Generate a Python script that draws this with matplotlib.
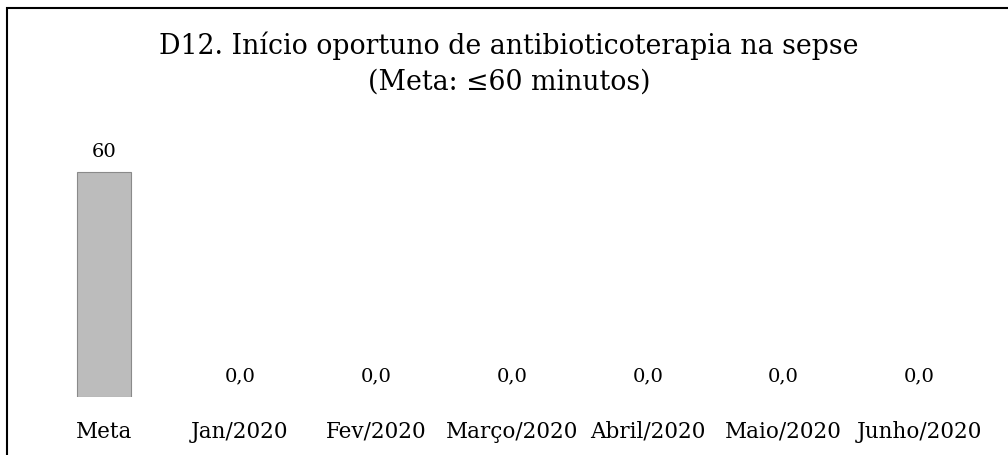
import matplotlib.pyplot as plt
from matplotlib.patches import Rectangle

categories = ["Meta", "Jan/2020", "Fev/2020", "Março/2020", "Abril/2020",
              "Maio/2020", "Junho/2020"]
values = [60, 0.0, 0.0, 0.0, 0.0, 0.0, 0.0]
labels = ["60", "0,0", "0,0", "0,0", "0,0", "0,0", "0,0"]
title = "D12. Início oportuno de antibioticoterapia na sepse\n(Meta: ≤60 minutos)"

plt.rcParams['font.family'] = ['DejaVu Serif']

fig = plt.figure(figsize=(10.08, 4.55), dpi=100)
ax = fig.add_axes([0.0357, 0.1275, 0.944, 0.577])

x = range(len(categories))
bars = ax.bar(x, values, width=0.4, color="#bcbcbc", edgecolor="#8a8a8a", linewidth=0.8)
for b, v in zip(bars, values):
    if v == 0:
        b.set_linewidth(0)
for xi, v, lab in zip(x, values, labels):
    ax.text(xi, v + 3, lab, ha="center", va="bottom", fontsize=14)

ax.set_xlim(-0.5, len(categories) - 0.5)
ax.set_ylim(0, 70)
ax.set_xticks(list(x))
ax.set_xticklabels(categories, fontsize=15.5)
ax.tick_params(axis="x", length=0, pad=17)
ax.set_yticks([])
for s in ax.spines.values():
    s.set_visible(False)

fig.text(0.505, 0.861, title, ha="center", va="center", fontsize=19.3, linespacing=1.4)

# page frame from the scan
fig.patches.append(Rectangle((7 / 1008, -0.1), 1.2, 447 / 455 + 0.1,
                             transform=fig.transFigure, fill=False,
                             edgecolor="black", linewidth=1.5))

fig.savefig("out.png", dpi=100)
